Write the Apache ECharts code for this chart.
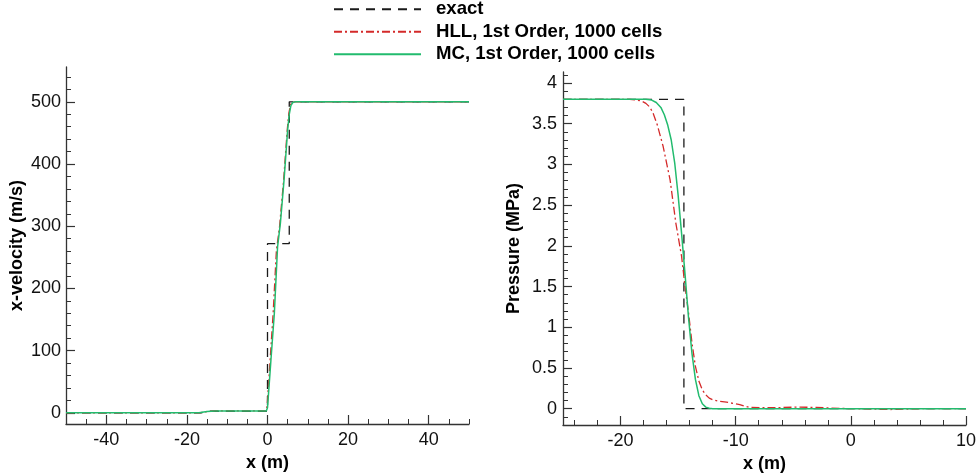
<!DOCTYPE html>
<html>
<head>
<meta charset="utf-8">
<script src="https://cdn.jsdelivr.net/npm/echarts@6/dist/echarts.min.js"></script>
<style>html,body{margin:0;padding:0;background:#fff}#c{width:978px;height:476px}</style>
</head>
<body>
<div id="c"></div>
<script>
// ---- Data ----
const seriesNames = ['exact', 'HLL, 1st Order, 1000 cells', 'MC, 1st Order, 1000 cells'];

// Left panel: x-velocity (m/s) vs x (m)
const velExactX = [-50, -16.5, -14.6, 0, 0, 5.4, 5.4, 50];
const velExactY = [0, 0, 2.5, 2.5, 272, 272, 500, 500];
const velHllX = [-50, -17, -15, -13, -0.4, -0.1, 0.6, 1.4, 2.2, 3.0, 4.0, 4.9, 5.3, 5.7, 6.2, 50];
const velHllY = [0, 0, 2, 3, 3, 10, 80, 160, 260, 300, 374, 455, 482, 495, 500, 500];
const velMcX = [-50, -17, -15, -13, -0.3, 0, 0.8, 1.7, 2.5, 3.2, 4.1, 5.0, 5.4, 5.8, 6.3, 7, 50];
const velMcY = [0, 0, 2, 3, 3, 8, 80, 160, 267, 305, 374, 455, 480, 494, 499, 500, 500];

// Right panel: Pressure (MPa) vs x (m)
const presExactX = [-25, -14.5, -14.5, 10];
const presExactY = [3.8, 3.8, 0, 0];
const presHllX = [-25, -19.2, -18.6, -18.2, -17.8, -17.5, -17.2, -16.8, -16.3, -15.7, -15.2, -14.7, -14.4, -14.1, -13.8, -13.5, -13.2, -12.9, -12.6, -12.3, -12.0, -11.4, -10.8, -10.2, -9.65, -9.2, -8.8, -6.75, -4.7, -3.0, -1.0, 0.5, 3.4, 4.8, 6, 10];
const presHllY = [3.8, 3.8, 3.79, 3.78, 3.75, 3.71, 3.64, 3.48, 3.22, 2.81, 2.28, 1.87, 1.5, 1.18, 0.81, 0.52, 0.34, 0.23, 0.17, 0.13, 0.11, 0.09, 0.08, 0.065, 0.05, 0.03, 0.016, 0.012, 0.02, 0.016, 0.004, 0, -0.01, -0.005, 0, 0];
const presMcX = [-25, -17.8, -17.3, -16.9, -16.5, -16.2, -15.9, -15.6, -15.3, -15.0, -14.7, -14.4, -14.1, -13.8, -13.5, -13.2, -12.9, -12.6, -12.3, -12.0, 10];
const presMcY = [3.8, 3.8, 3.79, 3.76, 3.70, 3.61, 3.48, 3.30, 3.02, 2.62, 2.15, 1.65, 1.12, 0.68, 0.36, 0.16, 0.06, 0.02, 0.005, 0, 0];

// Tick values
const velXMajor = [-40, -20, 0, 20, 40];
const velYMajor = [0, 100, 200, 300, 400, 500];
const presXMajor = [-20, -10, 0, 10];
const presYMajor = [0, 0.5, 1, 1.5, 2, 2.5, 3, 3.5, 4];

function range(a, b, step) { const r = []; for (let v = a; v <= b + 1e-9; v += step) r.push(+v.toFixed(6)); return r; }
const velXMinor = range(-50, 50, 5);
const velYMinor = range(0, 540, 20);
const presXMinor = range(-24, 10, 2);
const presYMinor = range(-0.1, 4.1, 0.1);

function zip(xs, ys) { return xs.map((x, i) => [x, ys[i]]); }

const FONT = 'Liberation Sans, Arial, Helvetica, sans-serif';
const AXC = '#333';

function majorAxis(grid, min, max, vals, pos, name, nameGap, labelMargin) {
  return {
    type: 'value', gridIndex: grid, min: min, max: max, position: pos,
    name: name, nameLocation: 'middle', nameGap: nameGap,
    nameTextStyle: { fontFamily: FONT, fontSize: 18, fontWeight: 'bold', color: '#000' },
    axisLine: { show: true, onZero: false, lineStyle: { color: AXC, width: 1.3 } },
    axisTick: { show: true, inside: true, length: 9, customValues: vals, lineStyle: { color: AXC, width: 1.2 } },
    axisLabel: { show: true, customValues: vals, fontFamily: FONT, fontSize: 18, color: '#111', margin: labelMargin },
    splitLine: { show: false }, minorTick: { show: false }
  };
}
function minorAxis(grid, min, max, vals, pos) {
  return {
    type: 'value', gridIndex: grid, min: min, max: max, position: pos,
    axisLine: { show: false, onZero: false },
    axisTick: { show: true, inside: true, length: 5, customValues: vals, lineStyle: { color: AXC, width: 1 } },
    axisLabel: { show: false }, splitLine: { show: false }
  };
}

const exactStyle = { color: '#1a1a1a', width: 1.3, type: [9, 7] };
const hllStyle = { color: '#d42a2a', width: 1.3, type: [8, 3, 2, 3] };
const mcStyle = { color: '#22bb6e', width: 1.5, type: 'solid' };

function line(name, data, xi, yi, style, z) {
  return { type: 'line', name: name, data: data, xAxisIndex: xi, yAxisIndex: yi, showSymbol: false, symbol: 'none',
    lineStyle: style, itemStyle: { color: style.color }, z: z, animation: false };
}

const chart = echarts.init(document.getElementById('c'), null, { renderer: 'canvas' });
chart.setOption({
  animation: false,
  backgroundColor: '#fff',
  legend: {
    orient: 'vertical', left: 333, top: -2, padding: 0, itemGap: 0, itemWidth: 87, itemHeight: 14,
    data: seriesNames,
    itemStyle: { opacity: 0 },
    textStyle: { fontFamily: FONT, fontSize: 18.6, fontWeight: 'bold', color: '#000', lineHeight: 22.5, padding: [0, 0, 0, 10] },
    selectedMode: false
  },
  grid: [
    { left: 66, right: 509, top: 67, bottom: 52, outerBoundsMode: 'none', containLabel: false },
    { left: 563, right: 12, top: 72, bottom: 51, outerBoundsMode: 'none', containLabel: false }
  ],
  xAxis: [
    majorAxis(0, -50, 50, velXMajor, 'bottom', 'x (m)', 30, 7),
    minorAxis(0, -50, 50, velXMinor, 'bottom'),
    majorAxis(1, -25, 10, presXMajor, 'bottom', 'x (m)', 30, 7),
    minorAxis(1, -25, 10, presXMinor, 'bottom')
  ],
  yAxis: [
    majorAxis(0, -18, 556, velYMajor, 'left', 'x-velocity (m/s)', 40, 5),
    minorAxis(0, -18, 556, velYMinor, 'left'),
    majorAxis(1, -0.2, 4.135, presYMajor, 'left', 'Pressure (MPa)', 40, 6),
    minorAxis(1, -0.2, 4.135, presYMinor, 'left')
  ],
  series: [
    line(seriesNames[0], zip(velExactX, velExactY), 0, 0, exactStyle, 2),
    line(seriesNames[1], zip(velHllX, velHllY), 0, 0, hllStyle, 3),
    line(seriesNames[2], zip(velMcX, velMcY), 0, 0, mcStyle, 4),
    line(seriesNames[0], zip(presExactX, presExactY), 2, 2, exactStyle, 2),
    line(seriesNames[1], zip(presHllX, presHllY), 2, 2, hllStyle, 3),
    line(seriesNames[2], zip(presMcX, presMcY), 2, 2, mcStyle, 4)
  ]
});
</script>
</body>
</html>
